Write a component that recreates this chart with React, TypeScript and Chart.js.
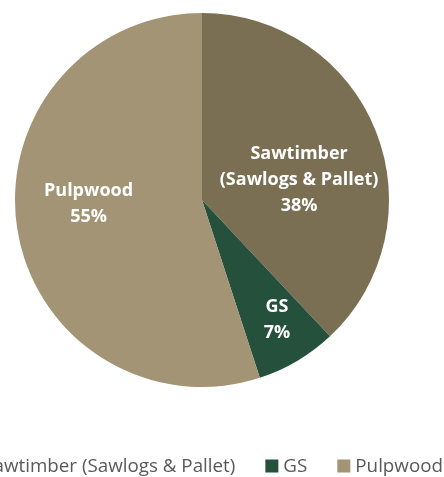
import React, { useEffect, useRef } from "react";
import { Chart, registerables } from "chart.js";

Chart.register(...registerables);

const categories = ["Sawtimber (Sawlogs & Pallet)", "GS", "Pulpwood"];
const labelLines = [["Sawtimber", "(Sawlogs & Pallet)"], ["GS"], ["Pulpwood"]];
const shares = [38, 7, 55];
const colors = ["#7a6e53", "#25503b", "#a29475"];

const FONT = "'Open Sans', 'DejaVu Sans', sans-serif";

const sliceLabels = {
  id: "sliceLabels",
  afterDatasetsDraw(chart: any, _args: any, opts: any) {
    const ctx = chart.ctx;
    const meta = chart.getDatasetMeta(0);
    const total = shares.reduce((a, b) => a + b, 0);
    ctx.save();
    ctx.fillStyle = "#ffffff";
    ctx.font = `bold 18px ${FONT}`;
    ctx.textAlign = "center";
    ctx.textBaseline = "middle";
    meta.data.forEach((arc: any, i: number) => {
      const p = arc.getProps(["x", "y", "startAngle", "endAngle", "outerRadius"], true);
      const mid = (p.startAngle + p.endAngle) / 2 + opts.angleShift[i];
      const r = p.outerRadius * opts.radiusFrac[i];
      const cx = p.x + Math.cos(mid) * r;
      const cy = p.y + Math.sin(mid) * r;
      const lines = [...labelLines[i], Math.round((shares[i] / total) * 100) + "%"];
      const lh = opts.lineHeight;
      const y0 = cy - ((lines.length - 1) * lh) / 2;
      lines.forEach((t, k) => ctx.fillText(t, cx, y0 + k * lh));
    });
    ctx.restore();
  },
};

const bottomLegend = {
  id: "bottomLegend",
  afterDraw(chart: any, _args: any, opts: any) {
    const ctx = chart.ctx;
    ctx.save();
    ctx.font = `18.8px ${FONT}`;
    ctx.textBaseline = "middle";
    const box = 13;
    const gapBoxText = 5;
    const gapItems = 30;
    const widths = categories.map((c) => box + gapBoxText + ctx.measureText(c).width);
    const total = widths.reduce((a, b) => a + b, 0) + gapItems * (categories.length - 1);
    // anchor the legend so that it ends at the given right edge
    let x = opts.right - total;
    const y = opts.y;
    categories.forEach((c, i) => {
      ctx.fillStyle = colors[i];
      ctx.fillRect(x, y - box / 2, box, box);
      ctx.fillStyle = "#595959";
      ctx.fillText(c, x + box + gapBoxText, y + 1);
      x += widths[i] + gapItems;
    });
    ctx.restore();
  },
};

export default function App() {
  const ref = useRef<HTMLCanvasElement>(null);
  useEffect(() => {
    if (!ref.current) return;
    const chart = new Chart(ref.current, {
      type: "pie",
      data: {
        labels: categories,
        datasets: [
          {
            data: shares,
            backgroundColor: colors,
            borderWidth: 0,
          },
        ],
      },
      options: {
        animation: false,
        responsive: true,
        maintainAspectRatio: false,
        layout: { padding: { left: 15, right: 55, top: 13, bottom: 90 } },
        plugins: {
          legend: { display: false },
          tooltip: { enabled: false },
          sliceLabels: {
            angleShift: [0.174, -0.026, 0.126],
            radiusFrac: [0.53, 0.754, 0.607],
            lineHeight: 26,
          },
          bottomLegend: { right: 443, y: 466 },
        } as any,
      },
      plugins: [sliceLabels, bottomLegend],
    });
    return () => chart.destroy();
  }, []);
  return (
    <div style={{ position: "absolute", left: 0, top: 0, width: 444, height: 477 }}>
      <canvas ref={ref} />
    </div>
  );
}
